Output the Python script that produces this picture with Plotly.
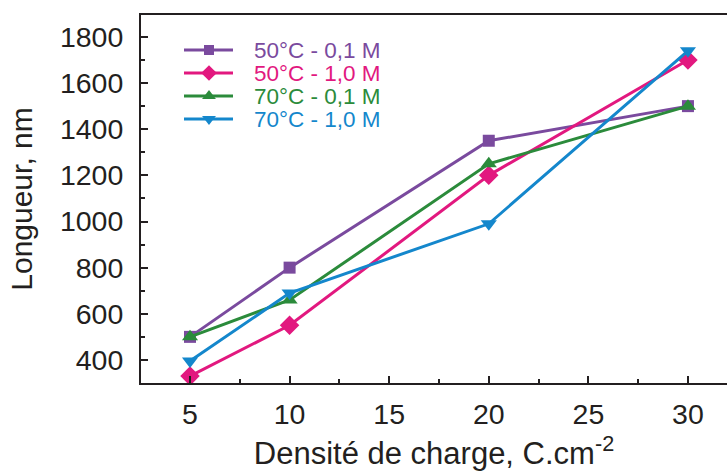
import plotly.graph_objects as go

# Charge density (C.cm^-2) and nanotube length (nm) for each bath condition
densite = [5, 10, 20, 30]
series_names = ["50°C - 0,1 M", "50°C - 1,0 M", "70°C - 0,1 M", "70°C - 1,0 M"]
longueur_50_01 = [500, 800, 1350, 1500]
longueur_50_10 = [330, 550, 1200, 1700]
longueur_70_01 = [500, 660, 1250, 1500]
longueur_70_10 = [395, 690, 990, 1740]
x_ticks = [5, 10, 15, 20, 25, 30]
y_ticks = [400, 600, 800, 1000, 1200, 1400, 1600, 1800]

colors = ["#7A4A9E", "#E2187F", "#2B8B3B", "#1487CC"]
symbols = ["square", "diamond", "triangle-up", "triangle-down"]
sizes = [12, 15, 14, 14]
legend_sizes = [10, 12, 12, 12]

W, H = 727, 475
ML, MR, MT, MB = 141, 0, 15, 92
PW, PH = W - ML - MR, H - MT - MB
font = "Liberation Sans, Arial, sans-serif"
ink = "#231F20"

fig = go.Figure()
all_series = [longueur_50_01, longueur_50_10, longueur_70_01, longueur_70_10]
for name, ys, c, s, sz in zip(series_names, all_series, colors, symbols, sizes):
    fig.add_trace(go.Scatter(
        x=densite, y=ys, name=name, mode="lines+markers",
        line=dict(color=c, width=3),
        marker=dict(symbol=s, size=sz, color=c),
        showlegend=False,
    ))

# Compact legend drawn on an overlay axis measured in plot-area pixels
row_y = [35, 58, 81, 104]
for i, (name, c, s, sz) in enumerate(zip(series_names, colors, symbols, legend_sizes)):
    fig.add_trace(go.Scatter(
        x=[43, 92], y=[row_y[i], row_y[i]], mode="lines",
        line=dict(color=c, width=3), xaxis="x2", yaxis="y2",
        showlegend=False, hoverinfo="skip",
    ))
    fig.add_trace(go.Scatter(
        x=[68], y=[row_y[i]], mode="markers",
        marker=dict(symbol=s, size=sz, color=c), xaxis="x2", yaxis="y2",
        showlegend=False, hoverinfo="skip",
    ))
    fig.add_annotation(
        x=111, y=row_y[i], xref="x2", yref="y2", text=name,
        showarrow=False, xanchor="left", yanchor="middle",
        font=dict(size=22.5, color=c, family=font),
    )

fig.update_layout(
    width=W, height=H,
    margin=dict(l=ML, r=MR, t=MT, b=MB),
    plot_bgcolor="white", paper_bgcolor="white",
    font=dict(family=font, color=ink),
    showlegend=False,
    xaxis=dict(
        range=[2.54, 31.96], tickvals=x_ticks,
        ticks="inside", ticklen=7, tickwidth=2, tickcolor=ink,
        minor=dict(dtick=2.5, tick0=0, ticks="inside", ticklen=4, tickwidth=2, tickcolor=ink),
        showline=True, linecolor=ink, linewidth=2, mirror=True,
        showgrid=False, zeroline=False,
        tickfont=dict(size=28.5), ticklabelstandoff=5,
        title=dict(text="Densité de charge, C.cm<sup>-2</sup>", font=dict(size=31), standoff=13),
    ),
    yaxis=dict(
        range=[300, 1895], tickvals=y_ticks,
        ticks="inside", ticklen=7, tickwidth=2, tickcolor=ink,
        minor=dict(dtick=100, tick0=0, ticks="inside", ticklen=4, tickwidth=2, tickcolor=ink),
        showline=True, linecolor=ink, linewidth=2, mirror=False,
        showgrid=False, zeroline=False,
        tickfont=dict(size=28.5), ticklabelstandoff=10,
        title=dict(text="Longueur, nm", font=dict(size=30), standoff=18),
    ),
    xaxis2=dict(range=[0, PW], overlaying="x", visible=False, fixedrange=True),
    yaxis2=dict(range=[PH, 0], overlaying="y", visible=False, fixedrange=True),
)

fig.write_html("out.html")
